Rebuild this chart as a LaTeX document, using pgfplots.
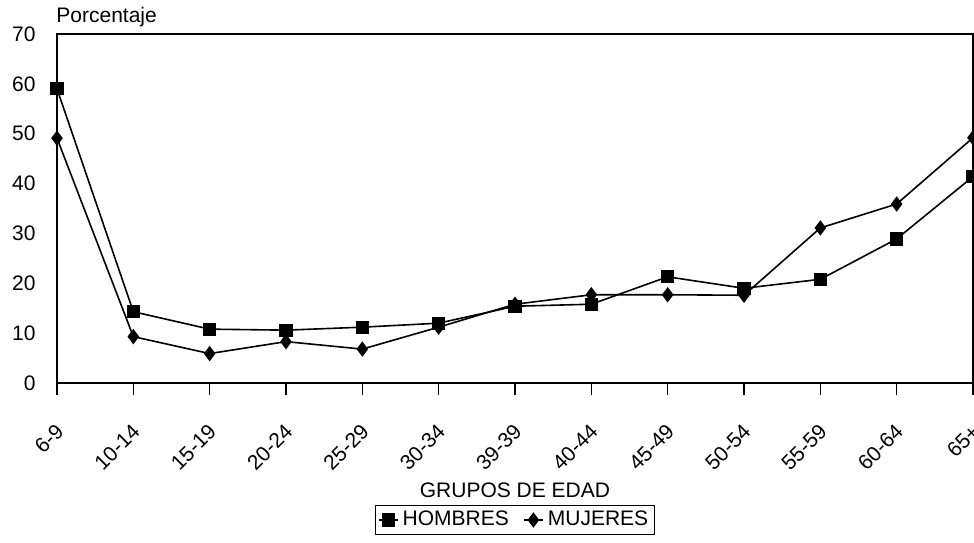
\documentclass[border=0pt]{standalone}
\usepackage{fontspec}
\setmainfont{Liberation Sans}
\usepackage{pgfplots}
\usepackage{pgfplotstable}
\pgfplotsset{compat=1.18}
\usetikzlibrary{calc}
\pgfplotstableread{
x y
0 59.0
1 14.3
2 10.8
3 10.6
4 11.2
5 12.0
6 15.4
7 15.8
8 21.3
9 19.0
10 20.8
11 28.9
12 41.4
}\hombres
\pgfplotstableread{
x y
0 49.1
1 9.3
2 5.9
3 8.3
4 6.8
5 11.2
6 15.8
7 17.7
8 17.7
9 17.6
10 31.1
11 35.9
12 49.2
}\mujeres
\newcommand{\lblfont}{\fontsize{10.5}{12}\selectfont}
\begin{document}
\begin{tikzpicture}
\begin{axis}[
  scale only axis, width=458pt, height=174.5pt,
  xmin=0, xmax=12, ymin=0, ymax=70,
  xtick={0,...,12},
  xticklabels={6-9,10-14,15-19,20-24,25-29,30-34,39-39,40-44,45-49,50-54,55-59,60-64,65+},
  ytick={0,10,...,70},
  xtick pos=bottom, ytick pos=left,
  tick align=outside,
  major tick length=6pt,
  ytick style={draw=none},
  xtick style={black, line width=0.6pt},
  axis line style={line width=0.8pt},
  /pgf/number format/assume math mode=true,
  tick label style={font=\lblfont},
  yticklabel style={anchor=east, inner sep=0pt, xshift=-4.5pt},
  xticklabel style={inner sep=0pt, xshift=1.5pt, yshift=-16.5pt, rotate=45, anchor=east},
  legend style={at={(0.5,0)}, anchor=center, yshift=-68.5pt, legend columns=2, draw=black, font=\lblfont, inner sep=1pt, line width=0.5pt,
    /tikz/every even column/.append style={column sep=5pt},
    /tikz/every odd column/.append style={column sep=0pt}},
  legend image code/.code={\draw[mark repeat=2,mark phase=2] plot coordinates {(0cm,0cm) (0.17cm,0cm) (0.34cm,0cm)};},
  clip=false,
]
\addplot[black, line width=0.8pt, mark=square*, mark size=2.9pt] table[x=x,y=y] {\hombres};
\addlegendentry{HOMBRES}
\addplot[black, line width=0.8pt, mark=diamond*, mark size=3.2pt] table[x=x,y=y] {\mujeres};
\addlegendentry{MUJERES}
\node[anchor=base west, font=\lblfont, inner sep=0pt, yshift=6pt, xshift=-0.5pt] at (rel axis cs:0,1) {Porcentaje};
\node[anchor=base, font=\lblfont, yshift=-57pt] at (rel axis cs:0.5,0) {GRUPOS DE EDAD};
\coordinate (ll) at (rel axis cs:0,0);
\coordinate (ur) at (rel axis cs:1,1);
\end{axis}
\pgfresetboundingbox
\path ($(ll)+(-28.5pt,-79.5pt)$) rectangle ($(ur)+(0.5pt,17pt)$);
\end{tikzpicture}
\end{document}
